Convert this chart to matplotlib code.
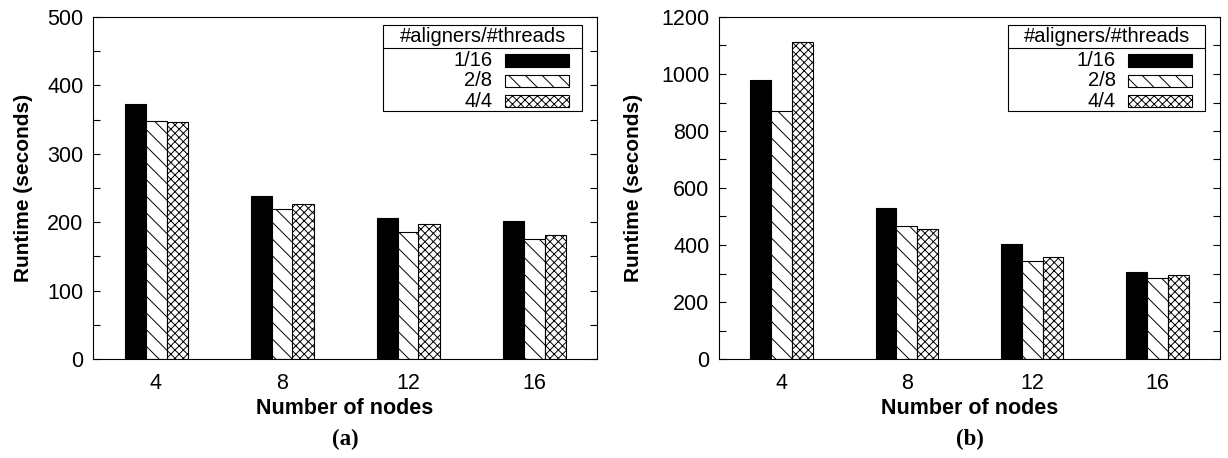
import matplotlib
matplotlib.use("Agg")
import matplotlib.pyplot as plt
from matplotlib.patches import Rectangle
from matplotlib.lines import Line2D
from matplotlib.ticker import MultipleLocator
import numpy as np

plt.rcParams['font.family'] = ['Liberation Sans', 'DejaVu Sans']
plt.rcParams['hatch.linewidth'] = 0.7

nodes = ["4", "8", "12", "16"]
series_labels = ["1/16", "2/8", "4/4"]
legend_title = "#aligners/#threads"

runtime_a_1_16 = [373, 238, 206, 202]
runtime_a_2_8 = [348, 220, 186, 175]
runtime_a_4_4 = [347, 226, 197, 181]

runtime_b_1_16 = [979, 529, 402, 306]
runtime_b_2_8 = [870, 468, 344, 285]
runtime_b_4_4 = [1112, 456, 358, 295]

styles = [dict(facecolor='black', hatch=None),
          dict(facecolor='white', hatch='\\\\'),
          dict(facecolor='white', hatch='xxxx')]

fig = plt.figure(figsize=(12.28, 4.58), dpi=100)
ax_a = fig.add_axes([93/1228, 1-359/458, 504/1228, 342/458])
ax_b = fig.add_axes([719/1228, 1-359/458, 501/1228, 342/458])

def draw(ax, series, ymax, major, minor, tag, ylab_x):
    x = np.arange(1, len(nodes)+1)
    w = 1/6
    for k, vals in enumerate(series):
        st = styles[k]
        ax.bar(x + (k-1)*w, vals, width=w, facecolor=st['facecolor'],
               edgecolor='black', linewidth=0.8, hatch=st['hatch'])
    ax.set_xlim(0.5, 4.5)
    ax.set_ylim(0, ymax)
    ax.set_xticks(x)
    ax.set_xticklabels(nodes)
    ax.yaxis.set_major_locator(MultipleLocator(major))
    ax.yaxis.set_minor_locator(MultipleLocator(minor))
    ax.tick_params(axis='y', which='both', direction='in', left=True, right=True,
                   length=5, width=0.8, labelsize=15.5, pad=7)
    ax.tick_params(axis='x', which='both', length=0, labelsize=15.5, pad=10)
    for s in ax.spines.values():
        s.set_linewidth(0.8)
    ax.set_ylabel("Runtime (seconds)", fontsize=15, fontweight='bold')
    ax.yaxis.set_label_coords(ylab_x, 0.5)
    ax.set_xlabel("Number of nodes", fontsize=15.5, fontweight='bold', labelpad=3)
    ax.text(0.5, -0.235, tag, transform=ax.transAxes, ha='center', va='center',
            fontsize=16.5, fontweight='bold', family='Liberation Serif')

    # legend (gnuplot style)
    tr = ax.transAxes
    bx0, bx1 = 0.576, 0.971
    by_top, by_div, by_bot = 0.977, 0.909, 0.725
    ax.add_patch(Rectangle((bx0, by_bot), bx1-bx0, by_top-by_bot, transform=tr,
                           facecolor='white', edgecolor='black', linewidth=0.8, zorder=5))
    ax.add_line(Line2D([bx0, bx1], [by_div, by_div], transform=tr, color='black',
                       linewidth=0.8, zorder=6))
    ax.text((bx0+bx1)/2, 0.942, legend_title, transform=tr, ha='center', va='center',
            fontsize=14.5, zorder=7)
    ys = [0.873, 0.813, 0.754]
    ph = 0.036
    for k, lab in enumerate(series_labels):
        st = styles[k]
        ax.text(0.792, ys[k], lab, transform=tr, ha='right', va='center', fontsize=14.5, zorder=7)
        ax.add_patch(Rectangle((0.817, ys[k]-ph/2), 0.127, ph, transform=tr,
                               facecolor=st['facecolor'], edgecolor='black',
                               linewidth=0.8, hatch=st['hatch'], zorder=7))

draw(ax_a, [runtime_a_1_16, runtime_a_2_8, runtime_a_4_4], 500, 100, 50, "(a)", -0.12)
draw(ax_b, [runtime_b_1_16, runtime_b_2_8, runtime_b_4_4], 1200, 200, 100, "(b)", -0.152)

fig.savefig("out.png", dpi=100)
